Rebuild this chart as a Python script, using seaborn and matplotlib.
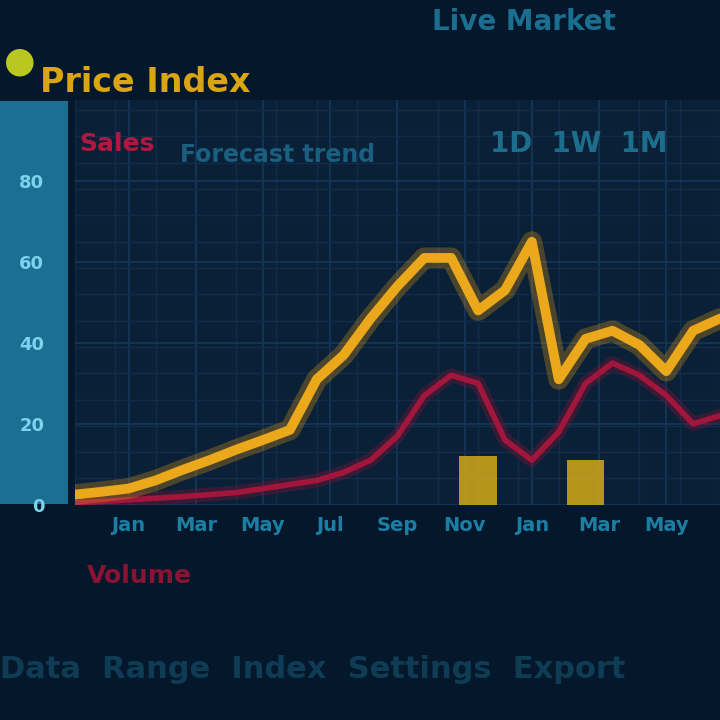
import numpy as np
import pandas as pd
import matplotlib.pyplot as plt
import seaborn as sns
from matplotlib.patches import Rectangle
import matplotlib.patheffects as pe

# Data (index 0..24 along the time axis)
periods = list(range(25))
price_values = [2.5, 3.2, 4.0, 6.0, 8.6, 11.0, 13.6, 16.0, 18.5, 31.0, 37.0, 46.0, 54.0,
                61.0, 61.0, 48.0, 53.0, 65.0, 31.0, 41.0, 43.0, 39.5, 33.0, 43.0, 46.0]
sales_values = [0.5, 0.8, 1.2, 1.6, 2.0, 2.5, 3.0, 4.0, 5.0, 6.0, 8.0, 11.0, 17.0,
                27.0, 32.0, 30.0, 16.0, 11.0, 18.0, 30.0, 35.0, 32.0, 27.0, 20.0, 22.0]
volume_values = [0, 0, 0, 0, 0, 0, 0, 0, 0, 0, 0, 0, 0,
                 0, 0, 12, 0, 0, 0, 11, 0, 0, 0, 0, 0]
x_tick_labels = ['Jan', 'Mar', 'May', 'Jul', 'Sep', 'Nov', 'Jan', 'Mar', 'May']
y_ticks = [0, 20, 40, 60, 80]
y_tick_labels = ['0', '20', '40', '60', '80']

df = pd.DataFrame({'period': periods, 'Price': price_values, 'Sales': sales_values})

sns.set_style('dark')
plt.rcParams['font.family'] = ['DejaVu Sans']

fig = plt.figure(figsize=(7.2, 7.2), dpi=100, facecolor='#05172a')

# cyan y-axis panel on the left (behind the tick labels)
fig.patches.append(Rectangle((0.0, 0.30), 0.095, 0.56, transform=fig.transFigure,
                             facecolor='#1a6f92', edgecolor='none', zorder=-1))

ax = fig.add_axes([0.104, 0.299, 0.896, 0.562])
ax.set_facecolor('#0a2036')

# yellow volume blobs
ax.bar(periods, volume_values, width=1.4, color='#c9a21a', edgecolor='none', alpha=0.9, zorder=2)

# lines with a soft glow
sns.lineplot(data=df, x='period', y='Sales', color='#a3163c', linewidth=4, ax=ax,
             path_effects=[pe.Stroke(linewidth=10, foreground='#8a1238', alpha=0.35), pe.Normal()],
             zorder=3)
sns.lineplot(data=df, x='period', y='Price', color='#eba81a', linewidth=7, ax=ax,
             path_effects=[pe.Stroke(linewidth=15, foreground='#e39a18', alpha=0.3), pe.Normal()],
             zorder=4)

ax.set_xlim(0, 24)
ax.set_ylim(0, 100)
ax.set_xticks(np.linspace(2, 22, len(x_tick_labels)))
ax.set_xticklabels(x_tick_labels, color='#1d7ea3', fontsize=14, fontweight='bold')
ax.set_yticks(y_ticks)
ax.set_yticklabels(y_tick_labels, color='#7ad4ee', fontsize=13, fontweight='bold')
ax.tick_params(axis='y', pad=22, length=0)
ax.tick_params(axis='x', pad=8, length=0)
ax.set_xlabel('')
ax.set_ylabel('')
ax.grid(True, color='#17365a', linewidth=1.2)
ax.set_xticks(np.arange(0, 25, 1.5), minor=True)
ax.set_yticks(np.arange(0, 101, 6.5), minor=True)
ax.grid(True, which='minor', color='#112c4a', linewidth=1.0)
for spine in ax.spines.values():
    spine.set_visible(False)

# title and legend texts
fig.text(0.005, 0.915, '\u25CF', color='#b8c820', fontsize=26, va='center')
fig.text(0.055, 0.885, 'Price Index', color='#d9a514', fontsize=24, fontweight='bold', va='center')
fig.text(0.11, 0.80, 'Sales', color='#b3163f', fontsize=18, fontweight='bold', va='center')
fig.text(0.25, 0.785, 'Forecast trend', color='#1a5f80', fontsize=17, fontweight='bold', va='center')
fig.text(0.60, 0.97, 'Live Market', color='#1a6f90', fontsize=20, fontweight='bold', va='center')
fig.text(0.68, 0.80, '1D  1W  1M', color='#1d6e8c', fontsize=20, fontweight='bold', va='center')

# footer texts
fig.text(0.12, 0.20, 'Volume', color='#8a1232', fontsize=18, fontweight='bold', va='center')
fig.text(0.0, 0.07, 'Data  Range  Index  Settings  Export', color='#0f3c55',
         fontsize=22, fontweight='bold', va='center')

plt.savefig('out.png', dpi=100, facecolor=fig.get_facecolor())
